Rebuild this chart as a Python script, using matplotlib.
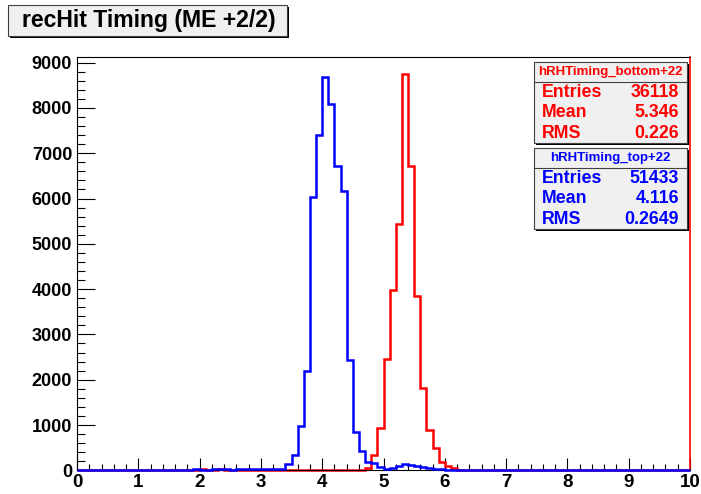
import numpy as np
import matplotlib
matplotlib.use("Agg")
from matplotlib import pyplot as plt
from matplotlib.patches import Rectangle

# histogram bins: 100 bins of 0.1 between 0 and 10
bin_edges = np.linspace(0, 10, 101)

# hRHTiming_top+22 (blue), counts starting at bin 1.9
top_start = 1.9
top_counts = [30, 0, 0, 20, 20, 20, 0, 25, 25, 25, 25, 25, 25, 25, 25,
              150, 330, 978, 2192, 6035, 7404, 8690, 8081, 6719, 6167,
              2437, 852, 426, 190, 160, 80, 35, 60, 90, 130, 120, 90,
              65, 45, 25, 25, 15, 15, 8, 8, 8]

# hRHTiming_bottom+22 (red), counts starting at bin 2.0
bottom_start = 2.0
bottom_counts = [25, 0, 0, 20, 0, 0, 0, 0, 0, 0, 0, 0, 0, 0, 0, 0, 0, 0, 0,
                 0, 0, 0, 0, 0, 0, 0, 0,
                 50, 338, 941, 2449, 3978, 5434, 8743, 6720, 3852, 1809,
                 889, 492, 190, 100, 45, 15, 10, 5]

title_text = "recHit Timing (ME +2/2)"
stats_bottom = ("hRHTiming_bottom+22", [("Entries", "36118"), ("Mean", "5.346"), ("RMS", "0.226")])
stats_top = ("hRHTiming_top+22", [("Entries", "51433"), ("Mean", "4.116"), ("RMS", "0.2649")])


def fill_hist(start, counts):
    h = np.zeros(100)
    i0 = int(round(start * 10))
    h[i0:i0 + len(counts)] = counts
    return h


W, H = 701, 494
plt.rcParams['font.family'] = ['Liberation Sans', 'DejaVu Sans']
fig = plt.figure(figsize=(W / 100, H / 100), dpi=100)


def fx(px):
    return px / W


def fy(py):
    return 1 - py / H


# plot frame in pixels
left, right, top, bottom = 77, 690, 56.7, 470.3
ax = fig.add_axes([fx(left), fy(bottom), fx(right - left), (bottom - top) / H])

ax.stairs(fill_hist(bottom_start, bottom_counts), bin_edges, color='#ff0000', lw=1.8,
          zorder=2, clip_on=False)
ax.stairs(fill_hist(top_start, top_counts), bin_edges, color='#0000ff', lw=1.8,
          zorder=3, clip_on=False)

ax.set_xlim(0, 10)
ax.set_ylim(0, 9132)
ax.set_xticks(np.arange(0, 11, 1))
ax.set_xticks(np.arange(0, 10.01, 0.2), minor=True)
ax.set_yticks(np.arange(0, 9001, 1000))
ax.set_yticks(np.arange(0, 9001, 200), minor=True)
ax.tick_params(axis='both', which='both', direction='in', width=0.8, color='black',
               top=False, right=False)
ax.tick_params(axis='x', which='major', length=8.6, labelsize=13.5, pad=3)
ax.tick_params(axis='x', which='minor', length=4.3)
ax.tick_params(axis='y', which='major', length=12.7, labelsize=13, pad=3.5)
ax.tick_params(axis='y', which='minor', length=6)
for lab in ax.get_xticklabels() + ax.get_yticklabels():
    lab.set_fontweight('bold')
for s in ax.spines.values():
    s.set_linewidth(0.8)
ax.spines['right'].set_color('#ff0000')
ax.spines['right'].set_linewidth(1.2)


def pave(x0, y0, x1, y1, shadow=2):
    fig.add_artist(Rectangle((fx(x0 + shadow), fy(y1 + shadow)), fx(x1 - x0), (y1 - y0) / H,
                             transform=fig.transFigure, facecolor='black', edgecolor='none', zorder=5))
    fig.add_artist(Rectangle((fx(x0), fy(y1)), fx(x1 - x0), (y1 - y0) / H,
                             transform=fig.transFigure, facecolor='#f0f0f0', edgecolor='#404040',
                             lw=0.8, zorder=6))


# title box
pave(8, 5, 287, 36)
fig.text(fx(148.5), fy(21), title_text, fontsize=16.6, fontweight='bold',
         ha='center', va='center', zorder=7)


def stat_box(y0, color, name, rows):
    x0, x1 = 534, 687
    y_head = y0 + 20
    y1 = y0 + 81
    pave(x0, y0, x1, y1)
    fig.add_artist(plt.Line2D([fx(x0), fx(x1)], [fy(y_head), fy(y_head)],
                              transform=fig.transFigure, color='#404040', lw=0.8, zorder=7))
    fig.text(fx((x0 + x1) / 2), fy(y0 + 10), name, color=color, fontsize=9.5,
             fontweight='bold', ha='center', va='center', zorder=8)
    for k, (lab, val) in enumerate(rows):
        yc = y0 + 30 + 20.5 * k
        fig.text(fx(541.5), fy(yc), lab, color=color, fontsize=12.8, fontweight='bold',
                 ha='left', va='center', zorder=8)
        fig.text(fx(679), fy(yc), val, color=color, fontsize=12.8, fontweight='bold',
                 ha='right', va='center', zorder=8)


stat_box(62.3, '#ff0000', *stats_bottom)
stat_box(148.3, '#0000ff', *stats_top)

plt.savefig("out.png", dpi=100, facecolor='white')
